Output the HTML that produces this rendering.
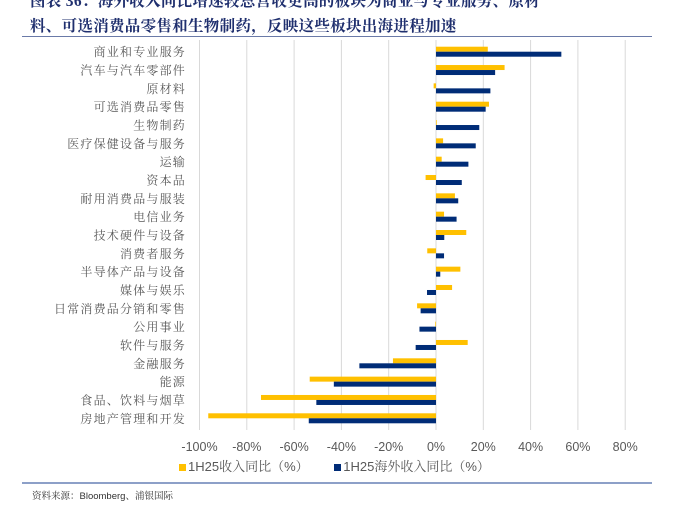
<!DOCTYPE html>
<html><head><meta charset="utf-8"><style>
body{margin:0;width:674px;height:510px;background:#fff;overflow:hidden;position:relative;font-family:"Liberation Sans","Noto Sans CJK SC",sans-serif}
.t{position:absolute;left:30px;font:bold 15.5px "Liberation Serif","Noto Serif CJK SC",serif;color:#1f2f6e;white-space:nowrap;letter-spacing:0.3px}
</style></head><body>
<div class="t" style="top:-11px">图表 36：海外收入同比增速较总营收更高的板块为商业与专业服务、原材</div>
<div class="t" style="top:14px">料、可选消费品零售和生物制药，反映这些板块出海进程加速</div>
<div style="position:absolute;left:22px;top:36px;width:630px;height:1px;background:#6a7aa8"></div>
<div style="position:absolute;left:22px;top:482px;width:630px;height:2px;background:#8da0c8"></div>
<div style="position:absolute;left:32px;top:488px;font-size:9.5px;color:#333;font-family:'Liberation Sans','Noto Serif CJK SC',sans-serif">资料来源：Bloomberg、浦银国际</div>
<svg id="c" width="674" height="510" style="position:absolute;left:0;top:0"></svg>
<script>
const categories=["商业和专业服务","汽车与汽车零部件","原材料","可选消费品零售","生物制药","医疗保健设备与服务","运输","资本品","耐用消费品与服装","电信业务","技术硬件与设备","消费者服务","半导体产品与设备","媒体与娱乐","日常消费品分销和零售","公用事业","软件与服务","金融服务","能源","食品、饮料与烟草","房地产管理和开发"];
const revenueYoY=[21.9,29,-1,22.4,0.3,3,2.4,-4.4,8,3.4,12.8,-3.7,10.3,6.8,-8,-0.3,13.4,-18.2,-53.4,-74,-96.3];
const overseasYoY=[53,25,23,21,18.3,16.8,13.7,10.9,9.4,8.7,3.5,3.4,1.8,-3.8,-6.5,-7,-8.6,-32.4,-43.2,-50.6,-53.8];
const ticks=[-100,-80,-60,-40,-20,0,20,40,60,80];
const svg=document.getElementById('c');const NS='http://www.w3.org/2000/svg';
const x=v=>436+v*2.365;
const yc=i=>51.7+i*18.33;
function mk(t,a){const e=document.createElementNS(NS,t);for(const k in a)e.setAttribute(k,a[k]);svg.appendChild(e);return e;}
ticks.forEach(t=>{
 const g=mk('line',{x1:x(t),x2:x(t),y1:40,y2:430,stroke:'#d9d9d9','stroke-width':1});
 
 
 const l=mk('text',{x:x(t),y:451,'text-anchor':'middle','font-size':12.5,fill:'#595959','font-family':'Liberation Sans,sans-serif'});
 l.textContent=t+'%';
 
 
});
categories.forEach((c,i)=>{
 const l=mk('text',{x:186,y:yc(i)+4.5,'text-anchor':'end','font-size':12,'letter-spacing':'1.2',fill:'#595959','font-family':'Noto Serif CJK SC,serif'});
 l.textContent=c;
 
 
 const a=revenueYoY[i],b=overseasYoY[i];
 const r1=mk('rect',{x:Math.min(x(0),x(a)),y:yc(i)-5,width:Math.max(0.5,Math.abs(x(a)-x(0))),height:5,fill:'#ffc000'});
 
 
 const r2=mk('rect',{x:Math.min(x(0),x(b)),y:yc(i),width:Math.max(0.5,Math.abs(x(b)-x(0))),height:5,fill:'#002c77'});
 
 
});
</script>
<div style="position:absolute;left:179px;top:456px;font-size:13px;color:#595959;font-family:'Liberation Sans','Noto Serif CJK SC',sans-serif;white-space:nowrap">
<span><span style="display:inline-block;width:7px;height:7px;background:#ffc000;margin-right:2px"></span>1H25收入同比（%）</span>
<span style="margin-left:22px"><span style="display:inline-block;width:7px;height:7px;background:#002c77;margin-right:2px"></span>1H25海外收入同比（%）</span>
</div>
</body></html>
